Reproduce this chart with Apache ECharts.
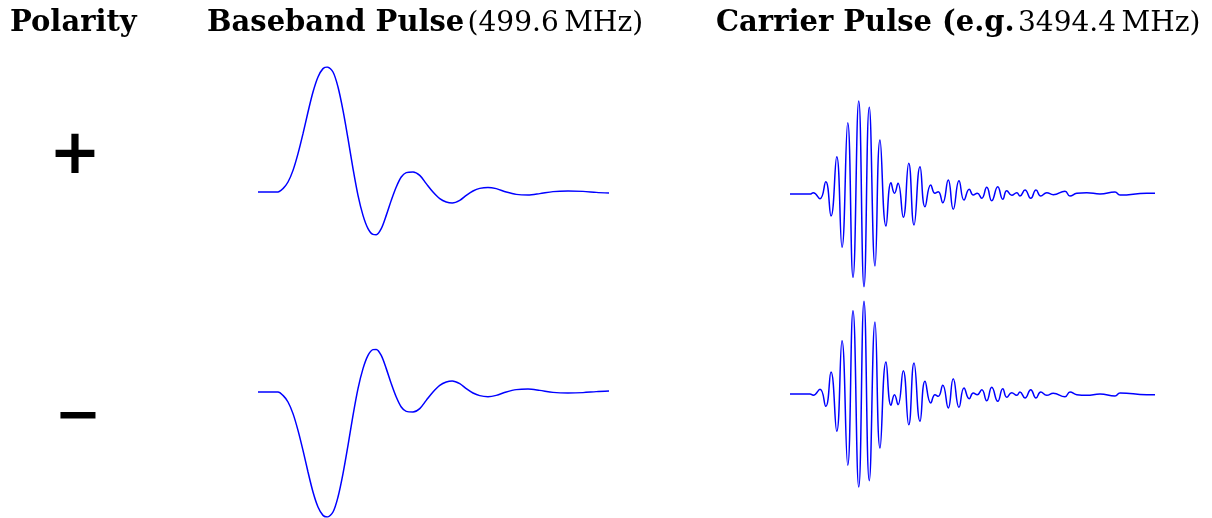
<!DOCTYPE html>
<html>
<head>
<meta charset="utf-8">
<script src="https://cdn.jsdelivr.net/npm/echarts@6/dist/echarts.min.js"></script>
<style>
  html, body { margin: 0; padding: 0; background: #ffffff; }
  #chart { width: 1212px; height: 518px; }
</style>
</head>
<body>
<div id="chart"></div>
<script>
// Column headings
const columnTitles = ['Polarity', 'Baseband Pulse', 'Carrier Pulse (e.g.'];
const columnUnits = ['', '(499.6\u2009MHz)', '3494.4\u2009MHz)'];
const polarityLabels = ['+', '\u2212'];
const polaritySigns = [1, -1];

// Baseband pulse (positive polarity): time in ns, normalised amplitude
const basebandTime = [0, 0.80, 1.00, 1.20, 1.40, 1.60, 1.80, 2.00, 2.20, 2.40, 2.60, 2.77,
  3.00, 3.20, 3.40, 3.60, 3.80, 4.00, 4.20, 4.40, 4.60, 4.73, 4.93, 5.13, 5.33, 5.53,
  5.73, 5.93, 6.20, 6.47, 6.73, 7.00, 7.27, 7.53, 7.77, 8.07, 8.33, 8.60, 8.87, 9.20,
  9.53, 9.93, 10.33, 10.80, 11.27, 11.80, 12.40, 13.00, 13.53, 14.04];
const basebandAmp = [0, 0, 0.027, 0.08, 0.173, 0.307, 0.467, 0.64, 0.80, 0.92, 0.987, 1.00,
  0.96, 0.84, 0.653, 0.427, 0.187, -0.027, -0.187, -0.293, -0.339, -0.341, -0.293, -0.187, -0.067, 0.04,
  0.12, 0.155, 0.16, 0.133, 0.067, 0, -0.053, -0.08, -0.088, -0.067, -0.027, 0.008, 0.029, 0.037,
  0.027, 0, -0.019, -0.024, -0.013, 0.003, 0.008, 0.005, -0.003, -0.008];

// Carrier-modulated pulse (positive polarity): time in ns, amplitude
const carrierTime = [0, 0.80, 0.93, 1.20, 1.43, 1.64, 1.87, 2.08, 2.31, 2.52, 2.75, 2.96,
  3.17, 3.40, 3.60, 3.84, 4.04, 4.18, 4.32, 4.53, 4.75, 4.96, 5.20, 5.40, 5.63, 5.80, 5.93,
  6.11, 6.33, 6.53, 6.76, 6.96, 7.17, 7.33, 7.49, 7.67, 7.87, 8.07, 8.31, 8.51, 8.67, 8.87,
  9.07, 9.20, 9.40, 9.63, 9.84, 10.03, 10.27, 10.53, 11.00, 11.20, 11.47, 11.87, 12.40,
  13.00, 13.20, 14.27, 14.60];
const carrierAmp = [0, 0, 0.013, -0.047, 0.123, -0.22, 0.373, -0.533, 0.713, -0.833, 0.93, -0.927,
  0.867, -0.72, 0.54, -0.32, 0.113, 0.007, 0.107, -0.233, 0.307, -0.31, 0.273, -0.127, 0.09, 0.007, 0.023,
  -0.087, 0.14, -0.153, 0.133, -0.06, 0.047, -0.01, 0.007, -0.043, 0.067, -0.067, 0.073, -0.053, 0.033, -0.013,
  0.013, -0.02, 0.04, -0.043, 0.04, -0.02, 0.013, -0.007, 0.027, -0.02, 0.007, 0.013, 0,
  0.02, -0.01, 0.007, 0.007];

const BLUE = '#0000ff';
const SERIF = '"DejaVu Serif", "Liberation Serif", serif';

function pairs(t, a, sign) {
  return t.map((x, i) => [x, sign * a[i]]);
}

// One panel per (polarity, pulse type)
const panels = [];
polaritySigns.forEach((sign, row) => {
  panels.push({
    grid: { left: 258, top: 67 + row * 200, width: 352, height: 250 },
    x: [0, 14.08], y: [-1, 1], smooth: 0.3,
    data: pairs(basebandTime, basebandAmp, sign)
  });
  panels.push({
    grid: { left: 790, top: 94 + row * 200, width: 365, height: 200 },
    x: [0, 14.6], y: [-1, 1], smooth: 0.5,
    data: pairs(carrierTime, carrierAmp, sign)
  });
});

function heading(left, bold, regular) {
  return {
    type: 'text', left: left, top: 9,
    style: {
      text: regular ? '{b|' + bold + '} {r|' + regular + '}' : '{b|' + bold + '}',
      rich: {
        b: { font: 'bold 29px ' + SERIF, fill: '#000' },
        r: { font: '28px ' + SERIF, fill: '#000' }
      }
    }
  };
}

const option = {
  animation: false,
  backgroundColor: '#ffffff',
  grid: panels.map(p => Object.assign({ containLabel: false }, p.grid)),
  xAxis: panels.map((p, i) => ({
    type: 'value', gridIndex: i, min: p.x[0], max: p.x[1], show: false
  })),
  yAxis: panels.map((p, i) => ({
    type: 'value', gridIndex: i, min: p.y[0], max: p.y[1], show: false
  })),
  series: panels.map((p, i) => ({
    type: 'line', xAxisIndex: i, yAxisIndex: i,
    data: p.data, smooth: p.smooth, showSymbol: false,
    lineStyle: { color: BLUE, width: 1.5 }
  })),
  graphic: [
    heading(10, columnTitles[0], columnUnits[0]),
    heading(207, columnTitles[1], columnUnits[1]),
    heading(716, columnTitles[2], columnUnits[2]),
    {
      type: 'text', x: 75, y: 157,
      style: { text: polarityLabels[0], font: 'bold 62px "DejaVu Sans", sans-serif',
        fill: '#000', align: 'center', verticalAlign: 'middle' }
    },
    {
      type: 'text', x: 78, y: 418,
      style: { text: polarityLabels[1], font: 'bold 56px "DejaVu Sans", sans-serif',
        fill: '#000', align: 'center', verticalAlign: 'middle' }
    }
  ]
};

const chart = echarts.init(document.getElementById('chart'), null, { renderer: 'canvas' });
chart.setOption(option);
</script>
</body>
</html>
